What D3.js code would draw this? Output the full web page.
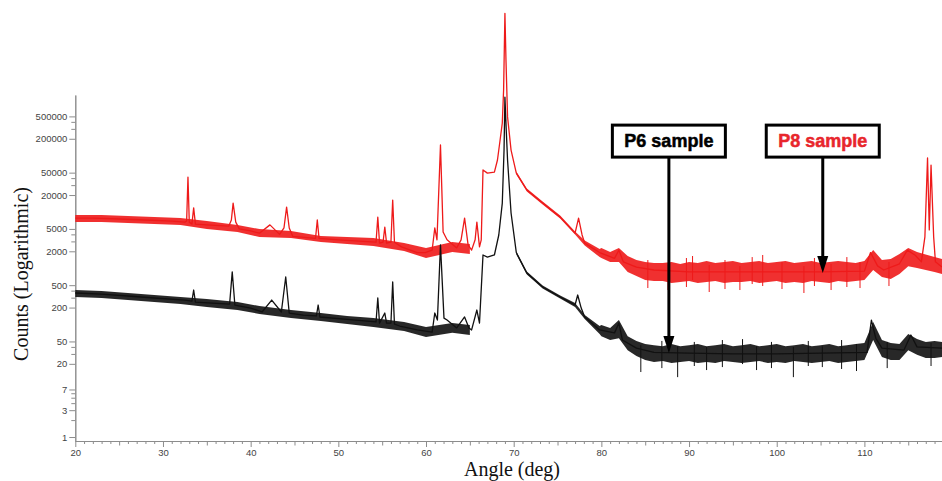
<!DOCTYPE html>
<html>
<head>
<meta charset="utf-8">
<script src="https://cdn.jsdelivr.net/npm/d3@7"></script>
<style>
  body { margin: 0; background: #fff; }
  svg { display: block; }
</style>
</head>
<body>
<svg id="chart" width="942" height="481"></svg>
<script>
// tick labels as printed on the picture
var angleTickLabels = [20, 30, 40, 50, 60, 70, 80, 90, 100, 110];
var countTickLabels = [500000, 200000, 50000, 20000, 5000, 2000, 500, 200, 50, 20, 7, 3, 1];
var countMinorTicks = [400000, 300000, 40000, 30000, 4000, 3000, 400, 300, 40, 30, 6, 5, 4, 2];

// P8 sample (red) : [angle, counts]
var p8Trace = [
  [20, 7800], [22, 7800], [25, 7500], [28, 7200], [31, 6900], [32.5, 6600], [32.7, 6900],
  [32.85, 41800], [33.0, 6600], [33.3, 6100], [33.5, 11800], [33.7, 6100], [35, 5900],
  [37.5, 5600], [37.8, 7200], [38.0, 14400], [38.3, 6600], [38.7, 5000], [40, 4600],
  [41, 4200], [42.2, 5900], [43.3, 4000], [43.8, 5200], [44.1, 12200], [44.4, 5200],
  [44.8, 3700], [47.4, 3400], [47.6, 7200], [47.8, 3400], [50, 3200], [54.3, 2900],
  [54.5, 8100], [54.7, 2800], [55.1, 2900], [55.3, 5400], [55.5, 2800], [56.0, 2900],
  [56.2, 16300], [56.4, 2900], [57.2, 2400], [59, 1900], [59.9, 1900], [60.7, 2100],
  [61.0, 5200], [61.25, 3200], [61.65, 155000], [61.95, 4400], [62.4, 3200], [63.5, 2300],
  [64.0, 3200], [64.4, 7800], [64.8, 2600], [65.2, 2100], [65.6, 3200], [65.8, 6600],
  [66.1, 2400], [66.3, 3200], [66.5, 55700], [67.0, 49000], [67.8, 51000], [68.15, 84000],
  [68.45, 190000], [68.7, 380000], [68.85, 1470000], [69.0, 34000000], [69.12, 5000000],
  [69.3, 490000], [69.7, 126000], [70.3, 49000], [71.5, 24600], [73.3, 14400], [75.3, 8100],
  [77.0, 4200], [77.4, 7800], [77.8, 3900], [78.1, 2800], [79.8, 1900], [81.5, 1500],
  [82.0, 2100], [82.5, 1300], [84, 1050], [86, 930], [90, 860], [95, 860], [100, 860],
  [105, 860], [110, 890], [110.7, 1900], [111.5, 1100], [112.2, 930], [114, 1200],
  [114.9, 2100], [115.8, 1700], [116.5, 1300], [116.9, 3600], [117.2, 91000], [117.4, 4800],
  [117.6, 68000], [117.9, 3600], [118.1, 1300], [118.85, 1050]
];

// P8 dense noise spread : [angle, low, high]
var p8Noise = [
  [[20, 6630, 8830], [23, 6630, 8830], [26, 6370, 8480], [29, 6110, 8130], [32, 5860, 7810],
   [35, 4980, 6900], [38.5, 4400, 5860], [41, 3590, 4980], [44.6, 3450, 4590], [48, 2920, 3740],
   [51, 2700, 3590], [54, 2480, 3450], [57.5, 2020, 2810], [60, 1520, 2290], [63, 1940, 2920],
   [65, 1790, 2700]],
  [[70.3, 46300, 52400], [71.5, 23100, 26100], [73.3, 13600, 15300], [75.3, 7650, 8650],
   [77.0, 3970, 4490], [78.1, 2540, 3110], [79.8, 1580, 2200],
   [80, 1520, 2290], [81, 1290, 1940], [82, 1290, 2290], [83, 857, 1650], [84, 727, 1400],
   [85, 618, 1290], [86, 593, 1240], [87, 593, 1240], [88, 546, 1290], [89, 569, 1190],
   [90, 593, 1290], [91, 546, 1240], [92, 569, 1340], [93, 593, 1240], [94, 546, 1290],
   [95, 569, 1340], [96, 569, 1240], [97, 593, 1290], [98, 546, 1340], [99, 569, 1240],
   [100, 593, 1290], [101, 546, 1340], [102, 569, 1240], [103, 546, 1290], [104, 593, 1340],
   [105, 569, 1240], [106, 546, 1290], [107, 593, 1340], [108, 569, 1290], [109, 593, 1240],
   [110, 618, 1340], [111, 930, 2110], [112, 698, 1400], [113, 643, 1460], [114, 789, 1790],
   [115, 1090, 2290], [116, 1010, 1940], [118, 857, 1580], [118.85, 789, 1460]]
];

// P8 single noise spikes : [angle, low, high]
var p8Spikes = [
  [85.3, 445, 1400], [87.6, 410, 1140], [89.7, 464, 1520], [90.4, 618, 1650], [92.3, 378, 1140],
  [94.1, 427, 1400], [95.8, 410, 1090], [97.2, 524, 1580], [98.4, 483, 1720], [100.6, 427, 1290],
  [103.1, 363, 1090], [104.3, 483, 1520], [106.2, 410, 1190], [108.0, 464, 1580],
  [109.5, 445, 1290], [112.8, 483, 1290]
];

// P6 sample (black) : [angle, counts]
var p6Trace = [
  [20, 363], [23, 348], [26, 321], [29, 296], [32.5, 272], [33.3, 261], [33.5, 410],
  [33.7, 250], [37.6, 231], [37.9, 860], [38.2, 222], [40, 196], [41.3, 167], [42.4, 272],
  [43.5, 167], [44.0, 700], [44.4, 160], [46, 147], [47.5, 142], [47.7, 222], [47.9, 136],
  [52, 120], [54.3, 111], [54.5, 296], [54.7, 106], [55.3, 160], [55.5, 106], [56.0, 106],
  [56.2, 570], [56.4, 102], [57.0, 94], [59, 80], [60.7, 73], [61.0, 160], [61.3, 120],
  [61.65, 2600], [62.05, 130], [62.4, 120], [63.5, 87], [64.4, 136], [64.9, 87], [65.2, 80],
  [65.8, 181], [66.1, 106], [66.5, 1720], [67.0, 1580], [67.8, 1720], [68.3, 3900],
  [68.7, 14400], [68.9, 126000], [69.0, 1100000], [69.15, 286000], [69.3, 84000],
  [69.7, 9600], [70.3, 1900], [71.5, 820], [73.3, 464], [75.3, 308], [77.0, 222], [77.3, 334],
  [77.7, 196], [78.1, 136], [79.8, 80], [81.5, 71], [82.0, 106], [82.4, 53], [84, 38],
  [86, 32], [90, 31], [95, 30], [100, 30], [105, 31], [110.3, 32], [110.8, 120], [111.3, 57],
  [112, 38], [114.5, 35], [115.3, 65], [116, 40], [118.85, 38]
];

// P6 dense noise spread : [angle, low, high]
var p6Noise = [
  [[20, 308, 410], [23, 296, 394], [26, 272, 363], [29, 251, 334], [32, 231, 308],
   [35, 205, 284], [38.5, 181, 251], [41, 154, 213], [44.6, 130, 181], [48, 115, 160],
   [51, 102, 142], [54, 90, 130], [57.5, 77, 111], [60, 60, 90], [63, 71, 106], [65, 65, 98]],
  [[70.3, 1750, 1980], [71.5, 773, 875], [73.3, 436, 493], [75.3, 290, 327], [77.0, 205, 241],
   [78.1, 125, 147], [79.8, 68, 94],
   [80, 62, 98], [81, 53, 87], [82, 57, 120], [83, 35, 62], [84, 27.5, 51], [85, 23.4, 45],
   [86, 21.5, 43], [87, 22.4, 41], [88, 20.7, 45], [89, 21.5, 41], [90, 22.4, 43],
   [91, 20.7, 45], [92, 21.5, 41], [93, 20.7, 43], [94, 22.4, 45], [95, 21.5, 41],
   [96, 20.7, 43], [97, 21.5, 45], [98, 22.4, 41], [99, 20.7, 43], [100, 21.5, 45],
   [101, 20.7, 41], [102, 22.4, 43], [103, 21.5, 45], [104, 20.7, 41], [105, 21.5, 43],
   [106, 22.4, 45], [107, 20.7, 41], [108, 21.5, 43], [109, 22.4, 45], [110, 23.4, 47],
   [111, 53, 111], [112, 26.4, 53], [113, 23.4, 47], [114, 23.4, 45], [115, 35, 68],
   [116, 29, 55], [117, 25.4, 49], [118, 25.4, 51], [118.85, 26.4, 49]]
];

// P6 single noise spikes : [angle, low, high]
var p6Spikes = [
  [84.5, 14.3, 43], [86.9, 16.8, 51], [88.7, 11.6, 41], [90.6, 18.3, 49], [92.0, 15.5, 40],
  [93.8, 17.5, 53], [96.1, 19.8, 55], [97.7, 15.5, 41], [99.4, 16.8, 49], [101.9, 11.6, 40],
  [103.6, 18.3, 51], [105.2, 17.5, 41], [107.4, 16.2, 53], [109.1, 14.9, 45],
  [112.6, 16.8, 49], [117.6, 18.3, 47]
];

// arrow call-outs : [label, angle of arrow, counts at arrow tip, text colour]
var notes = [
  ["P6 sample", 87.7, 31, "#000000"],
  ["P8 sample", 105.25, 822, "#e8262c"]
];
var noteBoxTopCounts = 350000;

var samples = [
  { trace: p8Trace, noise: p8Noise, spikes: p8Spikes, color: "#ee1a1a" },
  { trace: p6Trace, noise: p6Noise, spikes: p6Spikes, color: "#111111" }
];

var svg = d3.select("#chart");
var x = d3.scaleLinear().domain([20, 118.85]).range([75.3, 942]);
var y = d3.scaleLog().domain([0.85, 1.2e6]).range([441, 95]);

var axisColor = "#8c8c8c";
var tickFont = "'Liberation Sans', Arial, sans-serif";

function styleAxis(g) {
  g.select(".domain").attr("stroke", axisColor);
  g.selectAll(".tick line").attr("stroke", axisColor);
  g.selectAll(".tick text")
    .attr("fill", "#444")
    .style("font-family", tickFont)
    .style("font-size", "9.5px");
}

// x axis: minor every degree, medium every 5, labels every 10
var xMinor = d3.range(21, 119).filter(function (d) { return d % 5 != 0; });
var xMedium = d3.range(25, 119, 10);

svg.append("g")
  .attr("transform", "translate(0,441)")
  .call(d3.axisBottom(x).tickValues(xMinor).tickSize(3).tickSizeOuter(0).tickFormat(""))
  .call(styleAxis);
svg.append("g")
  .attr("transform", "translate(0,441)")
  .call(d3.axisBottom(x).tickValues(xMedium).tickSize(4.5).tickSizeOuter(0).tickFormat(""))
  .call(styleAxis);
svg.append("g")
  .attr("transform", "translate(0,441)")
  .call(d3.axisBottom(x).tickValues(angleTickLabels).tickSize(6).tickSizeOuter(0).tickPadding(2).tickFormat(d3.format("d")))
  .call(styleAxis);

// y axis (log)
svg.append("g")
  .attr("transform", "translate(75.3,0)")
  .call(d3.axisLeft(y).tickValues(countMinorTicks).tickSize(4).tickSizeOuter(0).tickFormat(""))
  .call(styleAxis);
svg.append("g")
  .attr("transform", "translate(75.3,0)")
  .call(d3.axisLeft(y).tickValues(countTickLabels).tickSize(6).tickSizeOuter(0).tickPadding(2).tickFormat(d3.format("d")))
  .call(styleAxis);

// traces
var noiseArea = d3.area()
  .x(function (d) { return x(d[0]); })
  .y0(function (d) { return y(d[1]); })
  .y1(function (d) { return y(d[2]); });
var traceLine = d3.line()
  .x(function (d) { return x(d[0]); })
  .y(function (d) { return y(d[1]); });

samples.forEach(function (s) {
  var g = svg.append("g");
  g.selectAll("path.noise")
    .data(s.noise)
    .enter()
    .append("path")
    .attr("class", "noise")
    .attr("d", noiseArea)
    .attr("fill", s.color)
    .attr("opacity", 0.9);
  g.selectAll("line.spike")
    .data(s.spikes)
    .enter()
    .append("line")
    .attr("class", "spike")
    .attr("x1", function (d) { return x(d[0]); })
    .attr("x2", function (d) { return x(d[0]); })
    .attr("y1", function (d) { return y(d[1]); })
    .attr("y2", function (d) { return y(d[2]); })
    .attr("stroke", s.color)
    .attr("stroke-width", 1);
  g.append("path")
    .attr("d", traceLine(s.trace))
    .attr("fill", "none")
    .attr("stroke", s.color)
    .attr("stroke-width", 1.3)
    .attr("stroke-linejoin", "round");
});

// axis titles
svg.append("text")
  .attr("transform", "translate(28,274) rotate(-90)")
  .attr("text-anchor", "middle")
  .style("font-family", "'Liberation Serif', 'Times New Roman', serif")
  .style("font-size", "20px")
  .attr("fill", "#111")
  .text("Counts (Logarithmic)");
svg.append("text")
  .attr("x", 512)
  .attr("y", 476)
  .attr("text-anchor", "middle")
  .style("font-family", "'Liberation Serif', 'Times New Roman', serif")
  .style("font-size", "20px")
  .attr("fill", "#111")
  .text("Angle (deg)");

// call-out boxes with arrows
var boxW = 113, boxH = 32;
notes.forEach(function (n) {
  var cx = x(n[1]);
  var tip = y(n[2]);
  var top = y(noteBoxTopCounts);
  var g = svg.append("g");
  g.append("line")
    .attr("x1", cx).attr("x2", cx)
    .attr("y1", top + boxH).attr("y2", tip - 12)
    .attr("stroke", "#000")
    .attr("stroke-width", 3);
  g.append("path")
    .attr("d", "M" + (cx - 5.5) + "," + (tip - 17) + "L" + (cx + 5.5) + "," + (tip - 17) + "L" + cx + "," + tip + "Z")
    .attr("fill", "#000");
  g.append("rect")
    .attr("x", cx - boxW / 2)
    .attr("y", top)
    .attr("width", boxW)
    .attr("height", boxH)
    .attr("fill", "#fff")
    .attr("stroke", "#000")
    .attr("stroke-width", 3);
  g.append("text")
    .attr("x", cx)
    .attr("y", top + boxH / 2 + 6)
    .attr("text-anchor", "middle")
    .style("font-family", "'Liberation Sans', Arial, sans-serif")
    .style("font-weight", "bold")
    .style("font-size", "18px")
    .attr("fill", n[3])
    .attr("stroke", n[3])
    .attr("stroke-width", 0.5)
    .text(n[0]);
});
</script>
</body>
</html>
